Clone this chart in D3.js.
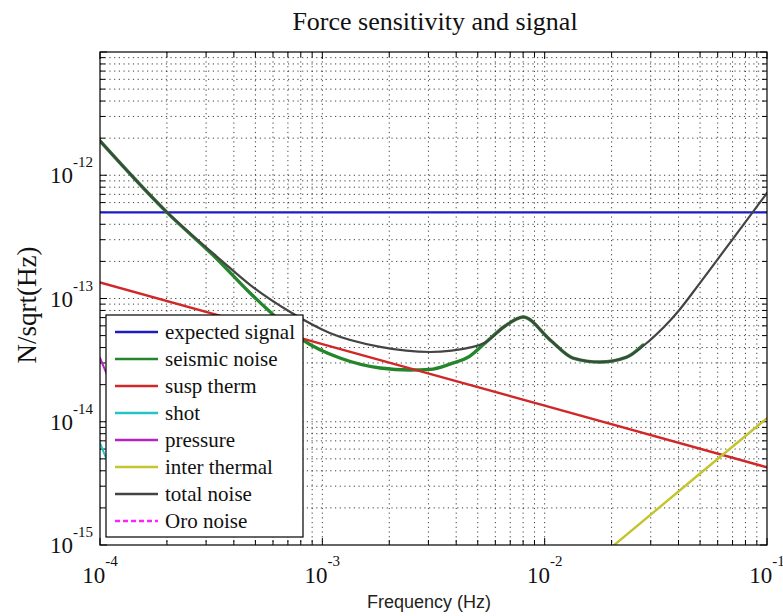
<!DOCTYPE html>
<html><head><meta charset="utf-8">
<script src="https://cdn.jsdelivr.net/npm/d3@7"></script>
<style>body{margin:0;background:#fff}svg{display:block}</style>
</head><body><svg id="c" width="783" height="616"></svg>
<script>
// ---- data ----
const title = "Force sensitivity and signal";
const xLabel = "Frequency (Hz)";
const yLabel = "N/sqrt(Hz)";
const xTickExps = [-4, -3, -2, -1];
const yTickExps = [-15, -14, -13, -12];
const legendLabels = ["expected signal","seismic noise","susp therm","shot","pressure","inter thermal","total noise","Oro noise"];

const signalF = [1e-4, 1e-1];
const signalV = [5.0e-13, 5.0e-13];

const seismicF = [1e-4, 2.0e-4, 3.29e-4, 4.73e-4, 5.83e-4, 8.18e-4, 1.2e-3, 1.82e-3, 2.48e-3, 3.05e-3, 3.75e-3, 4.61e-3, 5.4e-3, 6.64e-3, 8.0e-3, 1.06e-2, 1.34e-2, 1.77e-2, 2.34e-2, 2.77e-2];
const seismicV = [1.9e-12, 5.0e-13, 2.17e-13, 1.11e-13, 7.77e-14, 4.6e-14, 3.29e-14, 2.73e-14, 2.63e-14, 2.66e-14, 2.94e-14, 3.41e-14, 4.35e-14, 5.98e-14, 7.08e-14, 4.6e-14, 3.29e-14, 3.05e-14, 3.35e-14, 4.2e-14];

const suspF = [1e-4, 1e-3, 1e-2, 1e-1];
const suspV = [1.35e-13, 4.27e-14, 1.35e-14, 4.27e-15];

const shotF = [1e-4, 1.2e-4];
const shotV = [6.7e-15, 3.0e-15];

const pressureF = [1e-4, 1.2e-4];
const pressureV = [3.3e-14, 1.5e-14];

const interF = [2.0e-2, 5e-2, 1e-1];
const interV = [9.6e-16, 3.8e-15, 1.07e-14];

const totalF = [1e-4, 2.0e-4, 3.54e-4, 4.73e-4, 7.17e-4, 1.08e-3, 1.82e-3, 3.05e-3, 4.76e-3, 5.4e-3, 6.64e-3, 8.0e-3, 1.06e-2, 1.34e-2, 1.77e-2, 2.34e-2, 2.98e-2, 3.93e-2, 5.0e-2, 6.34e-2, 8.13e-2, 1e-1];
const totalV = [1.9e-12, 5.03e-13, 2.01e-13, 1.29e-13, 7.77e-14, 5.25e-14, 4.05e-14, 3.68e-14, 4.05e-14, 4.4e-14, 5.98e-14, 7.08e-14, 4.6e-14, 3.29e-14, 3.05e-14, 3.35e-14, 4.6e-14, 7.62e-14, 1.34e-13, 2.38e-13, 4.34e-13, 7.18e-13];

// ---- layout ----
const svg = d3.select("#c");
const L = 100, R = 767, T = 52, B = 545;
const x = d3.scaleLog().domain([1e-4, 1e-1]).range([L, R]);
const y = d3.scaleLog().domain([1e-15, 1e-11]).range([B, T]);

const serif = "'Liberation Serif','Times New Roman',serif";
const sans = "'Liberation Sans',Arial,sans-serif";

// grid
const g = svg.append("g");
const xGridVals = [];
for (let e = -4; e < -1; e++) for (let m = 1; m <= 9; m++) xGridVals.push(m * Math.pow(10, e));
const yGridVals = [];
for (let e = -15; e < -11; e++) for (let m = 1; m <= 9; m++) yGridVals.push(m * Math.pow(10, e));
g.selectAll("line.gx").data(xGridVals.slice(1)).join("line")
  .attr("x1", d => x(d)).attr("x2", d => x(d)).attr("y1", T).attr("y2", B)
  .attr("stroke", "#111").attr("stroke-width", 1).attr("stroke-dasharray", "1.2,3.5").attr("opacity", 0.8);
g.selectAll("line.gy").data(yGridVals.slice(1)).join("line")
  .attr("y1", d => y(d)).attr("y2", d => y(d)).attr("x1", L).attr("x2", R)
  .attr("stroke", "#111").attr("stroke-width", 1).attr("stroke-dasharray", "1.2,3.5").attr("opacity", 0.8);

// ticks (inside, all four sides)
const tk = svg.append("g").attr("stroke", "#000").attr("stroke-width", 1);
xGridVals.concat([1e-1]).forEach(v => {
  const major = Math.abs(Math.log10(v) - Math.round(Math.log10(v))) < 1e-9;
  const len = major ? 7 : 5;
  tk.append("line").attr("x1", x(v)).attr("x2", x(v)).attr("y1", B).attr("y2", B - len);
  tk.append("line").attr("x1", x(v)).attr("x2", x(v)).attr("y1", T).attr("y2", T + len);
});
yGridVals.concat([1e-11]).forEach(v => {
  const major = Math.abs(Math.log10(v) - Math.round(Math.log10(v))) < 1e-9;
  const len = major ? 7 : 5;
  tk.append("line").attr("y1", y(v)).attr("y2", y(v)).attr("x1", L).attr("x2", L + len);
  tk.append("line").attr("y1", y(v)).attr("y2", y(v)).attr("x1", R).attr("x2", R - len);
});

// curves
svg.append("clipPath").attr("id", "pc").append("rect").attr("x", L).attr("y", T).attr("width", R - L).attr("height", B - T);
const line = d3.line().x(d => x(d[0])).y(d => y(d[1])).curve(d3.curveMonotoneX);
const pts = (F, V) => F.map((f, i) => [f, V[i]]);
const curves = svg.append("g").attr("clip-path", "url(#pc)").attr("fill", "none");
function draw(F, V, color, w, dash) {
  const p = curves.append("path").attr("d", line(pts(F, V))).attr("stroke", color).attr("stroke-width", w)
    .attr("stroke-linejoin", "round").attr("stroke-linecap", "round");
  if (dash) p.attr("stroke-dasharray", dash);
}
const colors = {signal: "#1c1cc4", seismic: "#23862a", susp: "#d02828", shot: "#22c4c4", pressure: "#b424c0", inter: "#c4c42c", total: "#444444", oro: "#ff22ff"};
draw(signalF, signalV, colors.signal, 2.2);
draw(seismicF, seismicV, colors.seismic, 3.4);
draw(suspF, suspV, colors.susp, 2.4);
draw(shotF, shotV, colors.shot, 2);
draw(pressureF, pressureV, colors.pressure, 2);
draw(interF, interV, colors.inter, 2.4);
draw(totalF, totalV, colors.total, 2.2);

// frame
svg.append("rect").attr("x", L).attr("y", T).attr("width", R - L).attr("height", B - T)
  .attr("fill", "none").attr("stroke", "#000").attr("stroke-width", 1.2);

// legend
const lg = svg.append("g");
lg.append("rect").attr("x", 106).attr("y", 315).attr("width", 197).attr("height", 222)
  .attr("fill", "#fff").attr("stroke", "#000").attr("stroke-width", 1.2);
const legColors = [colors.signal, colors.seismic, colors.susp, colors.shot, colors.pressure, colors.inter, colors.total, colors.oro];
legendLabels.forEach((t, i) => {
  const yy = 332 + i * 27;
  const l = lg.append("line").attr("x1", 115).attr("x2", 158).attr("y1", yy).attr("y2", yy)
    .attr("stroke", legColors[i]).attr("stroke-width", 2.4);
  if (i === 7) l.attr("stroke-dasharray", "5,3");
  lg.append("text").attr("x", 165).attr("y", yy + 7).attr("font-family", serif).attr("font-size", 21)
    .attr("fill", "#111").text(t);
});

// tick labels
xTickExps.forEach(e => {
  const t = svg.append("text").attr("x", x(Math.pow(10, e))).attr("y", 583).attr("text-anchor", "middle")
    .attr("font-family", serif).attr("font-size", 23).attr("fill", "#111");
  t.append("tspan").text("10");
  t.append("tspan").attr("dy", -17).attr("font-size", 15).text(String(e));
});
yTickExps.forEach(e => {
  const t = svg.append("text").attr("x", 93).attr("y", y(Math.pow(10, e)) + 8).attr("text-anchor", "end")
    .attr("font-family", serif).attr("font-size", 23).attr("fill", "#111");
  t.append("tspan").text("10");
  t.append("tspan").attr("dy", -16).attr("font-size", 15).text(String(e));
});

// titles
svg.append("text").attr("x", 435).attr("y", 30).attr("text-anchor", "middle").attr("font-family", serif)
  .attr("font-size", 26).attr("fill", "#111").text(title);
svg.append("text").attr("x", 429).attr("y", 608).attr("text-anchor", "middle").attr("font-family", sans)
  .attr("font-size", 18).attr("fill", "#222").text(xLabel);
svg.append("text").attr("transform", "translate(36,305) rotate(-90)").attr("text-anchor", "middle")
  .attr("font-family", serif).attr("font-size", 27).attr("fill", "#111").text(yLabel);
</script></body></html>
